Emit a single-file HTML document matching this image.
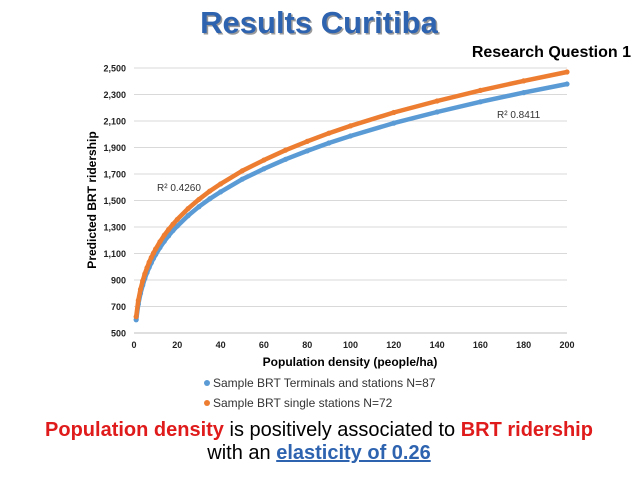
<!DOCTYPE html>
<html><head><meta charset="utf-8"><style>
body{margin:0;background:#fff;width:638px;height:479px;overflow:hidden;font-family:"Liberation Sans",sans-serif}
svg{display:block}
</style></head><body>
<svg width="638" height="479">
<text x="319" y="33" text-anchor="middle" font-size="31" font-weight="bold" fill="#999" transform="translate(1.5,1.5)">Results Curitiba</text>
<text x="319" y="33" text-anchor="middle" font-size="31" font-weight="bold" fill="#2e63b0">Results Curitiba</text>
<text x="631" y="57" text-anchor="end" font-size="16" font-weight="bold" fill="#000">Research Question 1</text>
<g id="grid"></g>
<g id="axes"></g>
<g id="series"></g>
<text x="254" y="118" font-size="10" fill="#333" transform="translate(243,0)">R² 0.8411</text>
<text x="157" y="191" font-size="10" fill="#333">R² 0.4260</text>
<text x="350" y="366" text-anchor="middle" font-size="12" font-weight="bold">Population density (people/ha)</text>
<text transform="translate(96,200) rotate(-90)" text-anchor="middle" font-size="12" font-weight="bold">Predicted BRT ridership</text>
<g><circle cx="207" cy="383" r="3" fill="#5b9bd5"/><text x="213" y="387" font-size="12" fill="#333">Sample BRT Terminals and stations N=87</text></g>
<g><circle cx="207" cy="403" r="3" fill="#ed7d31"/><text x="213" y="407" font-size="12" fill="#333">Sample BRT single stations N=72</text></g>
<text x="319" y="436" text-anchor="middle" font-size="20"><tspan fill="#e01b1b" font-weight="bold">Population density</tspan> is positively associated to <tspan fill="#e01b1b" font-weight="bold">BRT ridership</tspan></text>
<text x="319" y="459" text-anchor="middle" font-size="20">with an <tspan fill="#2e63b0" font-weight="bold" text-decoration="underline">elasticity of 0.26</tspan></text>
</svg>
<script>
const xs=[1,2,3,4,5,6,7,8,9,10,12,14,16,18,20,25,30,35,40,50,60,70,80,90,100,120,140,160,180,200];
const blueVals=[600,718,799,860,911,956,995,1030,1063,1092,1145,1192,1234,1273,1307,1386,1453,1513,1565,1661,1739,1811,1874,1934,1987,2084,2168,2245,2314,2379];
const orangeVals=[623,746,829,893,946,992,1034,1070,1103,1134,1189,1238,1281,1321,1357,1439,1508,1571,1625,1724,1805,1880,1946,2008,2063,2164,2251,2331,2403,2470];
const yTicks=[500,700,900,1100,1300,1500,1700,1900,2100,2300,2500];
const xTicks=[0,20,40,60,80,100,120,140,160,180,200];
const NS="http://www.w3.org/2000/svg";
const X0=134,X1=567,Y0=333,Y1=68;
const sx=v=>X0+(v-0)/200*(X1-X0);
const sy=v=>Y0-(v-500)/2000*(Y0-Y1);
function mk(t,a,p){const e=document.createElementNS(NS,t);for(const k in a)e.setAttribute(k,a[k]);p.appendChild(e);return e;}
const grid=document.getElementById('grid'),axes=document.getElementById('axes'),ser=document.getElementById('series');
yTicks.forEach(v=>{
 const l=mk('line',{x1:X0,x2:X1,y1:sy(v),y2:sy(v),stroke:v===500?'#bfbfbf':'#d9d9d9','stroke-width':1},grid);
 
 
 const t=mk('text',{x:X0-8,y:sy(v)+3.5,'text-anchor':'end','font-size':9,'font-weight':'bold',fill:'#222'},axes);
 t.textContent=v.toLocaleString('en-US');
 
 
});
xTicks.forEach(v=>{
 const t=mk('text',{x:sx(v),y:Y0+15,'text-anchor':'middle','font-size':9,'font-weight':'bold',fill:'#222'},axes);
 t.textContent=v;
 
 
});
function draw(vals,col,name){
 const g=mk('g',{},ser);
 
 
 const d=xs.map((x,i)=>(i?'L':'M')+sx(x).toFixed(1)+','+sy(vals[i]).toFixed(1)).join('');
 mk('path',{d:d,fill:'none',stroke:col,'stroke-width':4.5,'stroke-linejoin':'round','stroke-linecap':'round'},g);
 xs.forEach((x,i)=>{const c=mk('circle',{cx:sx(x),cy:sy(vals[i]),r:2.6,fill:col},g);
  
  });
}
draw(blueVals,'#5b9bd5','series-terminals-stations');
draw(orangeVals,'#ed7d31','series-single-stations');
</script>
</body></html>
